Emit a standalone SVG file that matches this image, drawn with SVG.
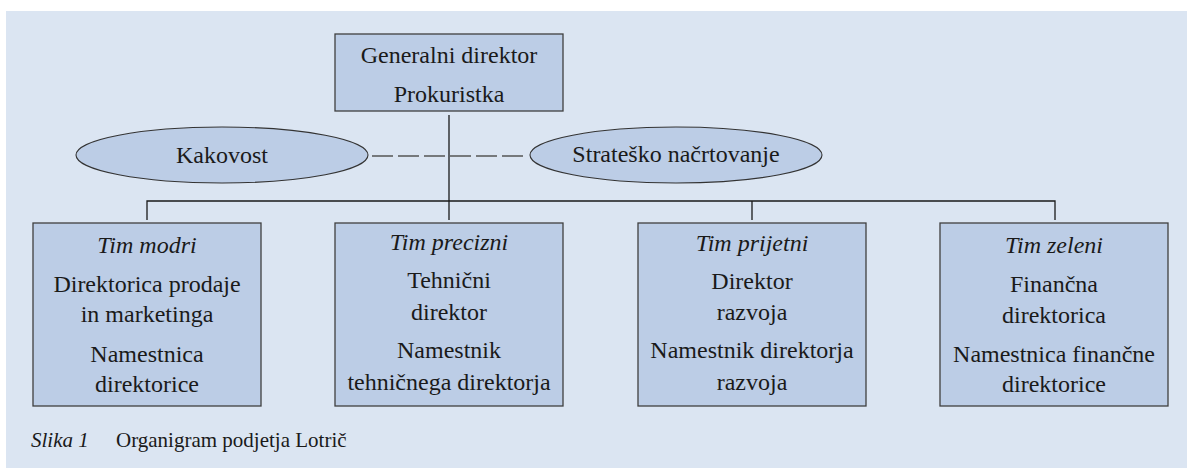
<svg xmlns="http://www.w3.org/2000/svg" width="1187" height="468" viewBox="0 0 1187 468">
<style>
.box{fill:#bccde6;stroke:#3f3f3f;stroke-width:1.3}
.ell{fill:#bccde6;stroke:#333333;stroke-width:1.1}
.t{font-family:"Liberation Serif","Times New Roman",serif;font-size:24px;fill:#1a1a1a;text-anchor:middle}
.i{font-style:italic}
.ln{stroke:#1a1a1a;stroke-width:1.3;fill:none}
.cap{font-family:"Liberation Serif","Times New Roman",serif;font-size:21px;fill:#1a1a1a}
</style>
<rect x="0" y="0" width="1187" height="468" fill="#ffffff"/>
<rect x="6" y="11" width="1181" height="457" fill="#dbe5f2"/>
<g id="connectors">
<line class="ln" x1="449" y1="115" x2="449" y2="220"/>
<polyline class="ln" points="147,220 147,201 1055,201 1055,220"/>
<line class="ln" x1="752" y1="201" x2="752" y2="220"/>
<line x1="372" y1="156" x2="527" y2="156" stroke="#555555" stroke-width="1.5" stroke-dasharray="21,5"/>
</g>
<g id="top">
<rect class="box" x="335" y="34" width="228" height="77"/>
<text class="t" x="449" y="63">Generalni direktor</text>
<text class="t" x="449" y="102">Prokuristka</text>
</g>
<g id="kakovost">
<ellipse class="ell" cx="222" cy="155" rx="146" ry="28"/>
<text class="t" x="222" y="163">Kakovost</text>
</g>
<g id="strateg">
<ellipse class="ell" cx="676" cy="155" rx="146" ry="28"/>
<text class="t" x="676" y="162">Strateško načrtovanje</text>
</g>
<g id="modri">
<rect class="box" x="33" y="223" width="228" height="183"/>
<text class="t i" x="147" y="253">Tim modri</text>
<text class="t" x="147" y="292">Direktorica prodaje</text>
<text class="t" x="147" y="322">in marketinga</text>
<text class="t" x="147" y="362">Namestnica</text>
<text class="t" x="147" y="392">direktorice</text>
</g>
<g id="precizni">
<rect class="box" x="335" y="223" width="228" height="183"/>
<text class="t i" x="449" y="250">Tim precizni</text>
<text class="t" x="449" y="288">Tehnični</text>
<text class="t" x="449" y="320">direktor</text>
<text class="t" x="449" y="358">Namestnik</text>
<text class="t" x="449" y="390">tehničnega direktorja</text>
</g>
<g id="prijetni">
<rect class="box" x="638" y="223" width="228" height="183"/>
<text class="t i" x="752" y="251">Tim prijetni</text>
<text class="t" x="752" y="289">Direktor</text>
<text class="t" x="752" y="320">razvoja</text>
<text class="t" x="752" y="358">Namestnik direktorja</text>
<text class="t" x="752" y="390">razvoja</text>
</g>
<g id="zeleni">
<rect class="box" x="940" y="223" width="228" height="183"/>
<text class="t i" x="1054" y="253">Tim zeleni</text>
<text class="t" x="1054" y="292">Finančna</text>
<text class="t" x="1054" y="323">direktorica</text>
<text class="t" x="1054" y="362">Namestnica finančne</text>
<text class="t" x="1054" y="392">direktorice</text>
</g>
<g id="caption">
<text class="cap" x="31" y="447" font-style="italic">Slika 1</text>
<text class="cap" x="116" y="447">Organigram podjetja Lotrič</text>
</g>
</svg>
